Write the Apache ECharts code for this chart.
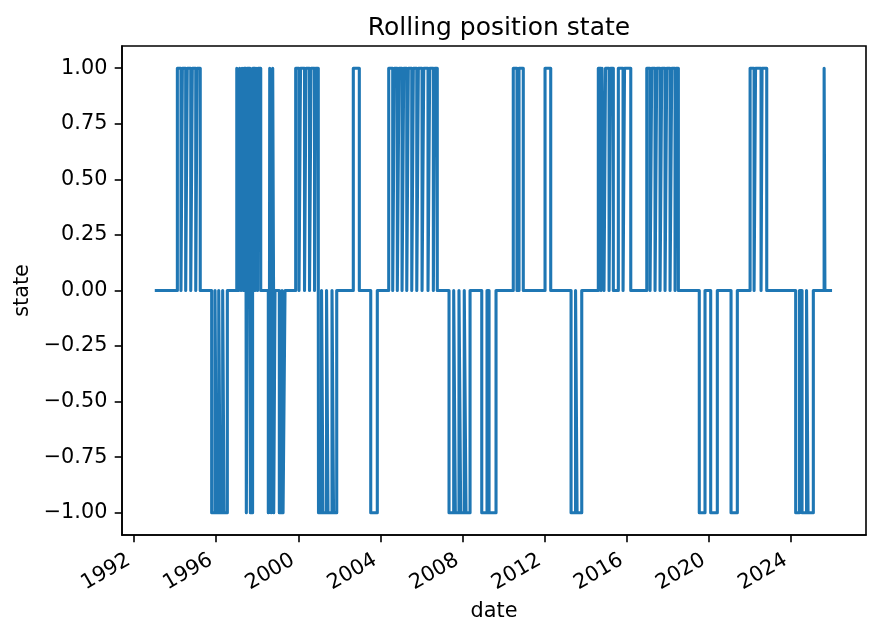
<!DOCTYPE html>
<html>
<head>
<meta charset="utf-8">
<script src="https://cdn.jsdelivr.net/npm/echarts@6.0.0/dist/echarts.min.js"></script>
<style>
html,body{margin:0;padding:0;background:#fff;}
#chart{width:880px;height:637px;}
</style>
</head>
<body>
<div id="chart"></div>
<script>
// Dates where the position state changes, and the state held from that date on
const changeDates = [
  '1993-01-04','1994-02-10','1994-04-15','1994-05-10','1994-07-08','1994-08-05','1994-10-06','1994-11-03',
  '1995-01-03','1995-01-26','1995-03-24','1995-10-13','1995-12-12','1996-01-04','1996-02-16','1996-03-11',
  '1996-04-26','1996-05-20','1996-07-18','1997-01-02','1997-02-03','1997-02-21','1997-03-19','1997-04-06',
  '1997-05-02','1997-05-11','1997-06-16','1997-06-21','1997-07-03','1997-07-09','1997-08-26','1997-09-01',
  '1997-10-10','1997-10-13','1997-11-23','1997-12-11','1998-01-06','1998-01-15','1998-03-04','1998-07-17',
  '1998-08-07','1998-08-11','1998-09-03','1998-09-07','1998-09-30','1998-10-03','1998-10-18','1998-10-21',
  '1998-11-13','1999-01-29','1999-03-18','1999-04-05','1999-05-10','1999-11-16','2000-01-14','2000-02-10',
  '2000-04-21','2000-05-18','2000-07-19','2000-08-15','2000-10-16','2000-11-03','2000-12-22','2000-12-26',
  '2001-02-18','2001-03-16','2001-05-18','2001-06-13','2001-08-23','2001-09-19','2001-11-15','2002-09-06',
  '2002-12-22','2003-07-13','2003-11-07','2004-05-28','2004-08-07','2004-09-05','2004-10-28','2004-11-27',
  '2005-01-20','2005-02-19','2005-04-14','2005-05-12','2005-07-12','2005-08-09','2005-10-09','2005-11-06',
  '2006-01-11','2006-02-10','2006-04-27','2006-05-27','2006-07-31','2006-08-24','2006-10-09','2007-05-06',
  '2007-07-28','2007-08-26','2007-10-30','2007-11-29','2008-02-01','2008-03-03','2008-05-14','2008-12-08',
  '2009-03-12','2009-04-17','2009-08-19','2010-06-22','2010-08-27','2010-10-02','2010-12-17','2012-01-08',
  '2012-04-18','2013-04-15','2013-07-04','2013-07-31','2013-10-22','2014-08-13','2014-09-30','2014-10-18',
  '2014-11-22','2014-12-19','2015-02-20','2015-03-18','2015-05-07','2015-08-04','2015-10-27','2015-11-22',
  '2016-03-12','2016-12-22','2017-02-18','2017-03-20','2017-05-18','2017-06-17','2017-08-15','2017-09-14',
  '2017-11-12','2017-12-12','2018-02-09','2018-03-11','2018-05-09','2018-05-27','2018-07-07','2019-07-14',
  '2019-10-24','2020-02-02','2020-05-30','2021-01-29','2021-05-21','2022-01-03','2022-03-15','2022-04-10',
  '2022-07-17','2022-08-04','2022-10-26','2024-03-24','2024-05-31','2024-07-15','2024-10-03','2024-10-30',
  '2025-02-01','2025-08-12','2025-08-26','2025-12-31'
];
const changeStates = [
  0,1,0,1,0,1,0,1,
  0,1,0,-1,0,-1,0,-1,
  0,-1,0,1,0,1,0,1,
  0,1,0,-1,0,1,0,-1,
  0,1,0,1,0,1,0,-1,
  0,1,0,-1,0,1,0,-1,
  0,-1,0,-1,0,1,0,1,
  0,1,0,1,0,1,0,-1,
  0,-1,0,-1,0,-1,0,1,
  0,-1,0,1,0,1,0,1,
  0,1,0,1,0,1,0,1,
  0,1,0,1,0,1,0,-1,
  0,-1,0,-1,0,-1,0,-1,
  0,-1,0,1,0,1,0,1,
  0,-1,0,-1,0,1,0,1,
  0,1,0,1,0,1,0,1,
  0,1,0,1,0,1,0,1,
  0,1,0,1,0,1,0,-1,
  0,-1,0,-1,0,1,0,1,
  0,1,0,-1,0,-1,0,-1,
  0,1,0,0
];
const xTickYears = [1992,1996,2000,2004,2008,2012,2016,2020,2024];
const yTickValues = [-1,-0.75,-0.5,-0.25,0,0.25,0.5,0.75,1];
const xMinDate = '1991-06-01';
const xMaxDate = '2027-08-27';

const toMs = s => Date.parse(s + 'T00:00:00Z');
const seriesData = changeDates.map((d, i) => [toMs(d), changeStates[i]]);
const xTickTimes = xTickYears.map(y => Date.UTC(y, 0, 1));

const chart = echarts.init(document.getElementById('chart'), null, {renderer: 'canvas'});
const FONT = 'DejaVu Sans';
const fmtY = v => (v < 0 ? '\u2212' : '') + Math.abs(v).toFixed(2);

chart.setOption({
  backgroundColor: '#ffffff',
  animation: false,
  textStyle: {fontFamily: FONT},
  title: {
    text: 'Rolling position state',
    left: 494, top: 11, textAlign: 'center',
    textStyle: {fontFamily: FONT, fontSize: 25, fontWeight: 'normal', color: '#000'}
  },
  grid: {left: 122, right: 14, top: 46, bottom: 102, show: true, borderColor: '#000', borderWidth: 1.6, containLabel: false},
  xAxis: {
    type: 'value',
    min: toMs(xMinDate), max: toMs(xMaxDate),
    name: 'date', nameLocation: 'middle', nameGap: 66,
    nameTextStyle: {fontFamily: FONT, fontSize: 20.8, color: '#000'},
    axisLine: {show: true, onZero: false, lineStyle: {color: '#000', width: 1.6}},
    axisTick: {show: true, length: 7.3, lineStyle: {color: '#000', width: 1.6}, customValues: xTickTimes},
    axisLabel: {
      show: true, rotate: 30, margin: 20.6, fontFamily: FONT, fontSize: 20.8, color: '#000',
      customValues: xTickTimes, padding: [0, 6, 0, 0],
      formatter: v => String(new Date(v).getUTCFullYear())
    },
    splitLine: {show: false}
  },
  yAxis: {
    type: 'value',
    min: -1.1, max: 1.1,
    name: 'state', nameLocation: 'middle', nameGap: 87, nameRotate: 90,
    nameTextStyle: {fontFamily: FONT, fontSize: 20.8, color: '#000'},
    axisLine: {show: true, lineStyle: {color: '#000', width: 1.6}},
    axisTick: {show: true, length: 7.3, lineStyle: {color: '#000', width: 1.6}, customValues: yTickValues},
    axisLabel: {
      show: true, margin: 14.6, fontFamily: FONT, fontSize: 20.8, color: '#000',
      customValues: yTickValues, formatter: fmtY
    },
    splitLine: {show: false}
  },
  series: [{
    type: 'line',
    step: 'end',
    data: seriesData,
    showSymbol: false,
    symbol: 'none',
    lineStyle: {color: '#1f77b4', width: 3.1, join: 'round', cap: 'butt'},
    clip: true
  }]
});
</script>
</body>
</html>
